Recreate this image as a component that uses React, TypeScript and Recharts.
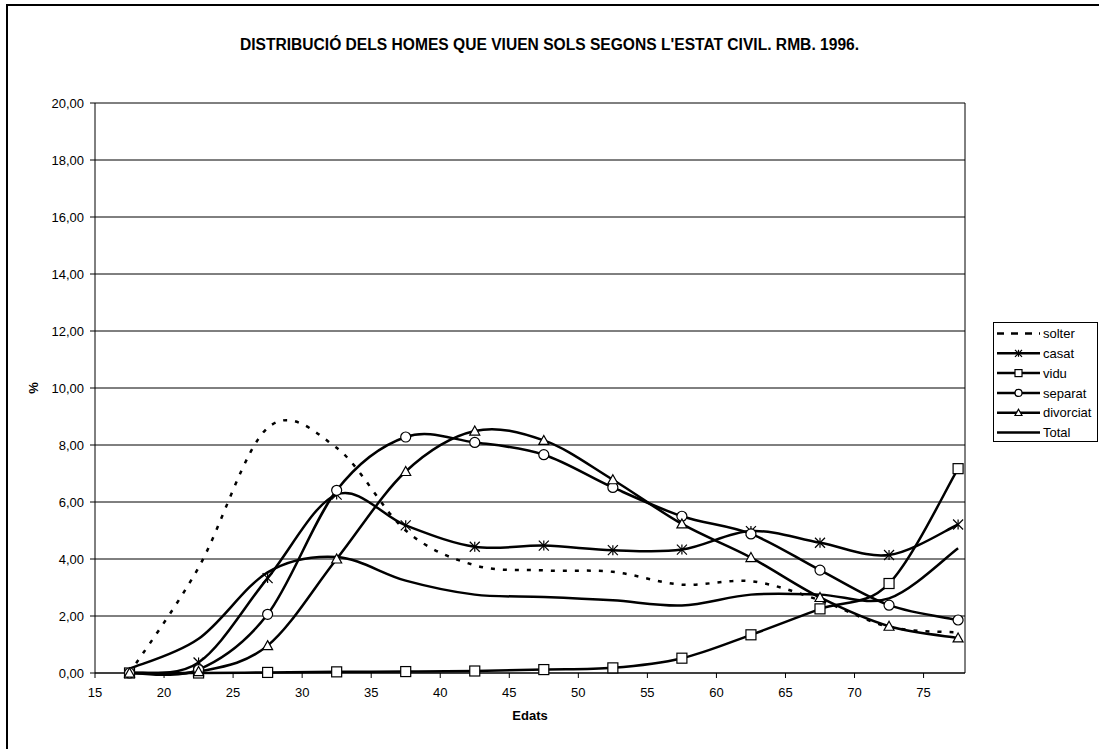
import { CartesianGrid, Line, LineChart, ReferenceLine, XAxis, YAxis } from 'recharts'

const AGES = [17.5, 22.5, 27.5, 32.5, 37.5, 42.5, 47.5, 52.5, 57.5, 62.5, 67.5, 72.5, 77.5]

const SOLTER = [0, 3.7, 8.6, 7.9, 5.0, 3.78, 3.6, 3.55, 3.1, 3.22, 2.55, 1.62, 1.42]
const CASAT = [0, 0.37, 3.33, 6.26, 5.18, 4.43, 4.47, 4.31, 4.33, 4.98, 4.57, 4.14, 5.21]
const VIDU = [0, 0, 0.02, 0.04, 0.05, 0.07, 0.12, 0.18, 0.52, 1.34, 2.25, 3.14, 7.17]
const SEPARAT = [0, 0.12, 2.06, 6.41, 8.28, 8.09, 7.66, 6.51, 5.5, 4.88, 3.61, 2.38, 1.86]
const DIVORCIAT = [0, 0.05, 0.96, 4.0, 7.07, 8.49, 8.16, 6.78, 5.23, 4.05, 2.65, 1.64, 1.23]
const TOTAL = [0.15, 1.2, 3.53, 4.07, 3.24, 2.75, 2.67, 2.55, 2.37, 2.75, 2.75, 2.62, 4.38]

const X_TICKS = [15, 20, 25, 30, 35, 40, 45, 50, 55, 60, 65, 70, 75]
const Y_TICKS = [0, 2, 4, 6, 8, 10, 12, 14, 16, 18, 20]

const data = AGES.map((age, i) => ({
  age,
  solter: SOLTER[i],
  casat: CASAT[i],
  vidu: VIDU[i],
  separat: SEPARAT[i],
  divorciat: DIVORCIAT[i],
  Total: TOTAL[i],
}))

type MarkerKind = 'none' | 'star' | 'square' | 'circle' | 'triangle'

const SERIES: { key: string; marker: MarkerKind; dashed?: boolean }[] = [
  { key: 'solter', marker: 'none', dashed: true },
  { key: 'casat', marker: 'star' },
  { key: 'vidu', marker: 'square' },
  { key: 'separat', marker: 'circle' },
  { key: 'divorciat', marker: 'triangle' },
  { key: 'Total', marker: 'none' },
]

const FONT = '"Liberation Sans", Arial, sans-serif'

// Excel style smoothing: cubic bezier with control points at (next - prev) / 6
function excelSmooth(context: any) {
  let pts: [number, number][] = []
  return {
    areaStart() {},
    areaEnd() {},
    lineStart() {
      pts = []
    },
    point(x: number, y: number) {
      pts.push([+x, +y])
    },
    lineEnd() {
      if (!pts.length) return
      context.moveTo(pts[0][0], pts[0][1])
      for (let i = 0; i < pts.length - 1; i++) {
        const p0 = pts[i - 1] ?? pts[i]
        const p1 = pts[i]
        const p2 = pts[i + 1]
        const p3 = pts[i + 2] ?? pts[i + 1]
        context.bezierCurveTo(
          p1[0] + (p2[0] - p0[0]) / 6,
          p1[1] + (p2[1] - p0[1]) / 6,
          p2[0] - (p3[0] - p1[0]) / 6,
          p2[1] - (p3[1] - p1[1]) / 6,
          p2[0],
          p2[1],
        )
      }
    },
  }
}

function Marker({ kind, cx, cy, s }: { kind: MarkerKind; cx: number; cy: number; s: number }) {
  const h = s / 2
  if (kind === 'square')
    return <rect x={cx - h} y={cy - h} width={s} height={s} fill="#fff" stroke="#000" strokeWidth={1.2} />
  if (kind === 'circle') return <circle cx={cx} cy={cy} r={h} fill="#fff" stroke="#000" strokeWidth={1.2} />
  if (kind === 'triangle')
    return (
      <polygon
        points={`${cx},${cy - h} ${cx + h},${cy + h * 0.8} ${cx - h},${cy + h * 0.8}`}
        fill="#fff"
        stroke="#000"
        strokeWidth={1.2}
      />
    )
  if (kind === 'star')
    return (
      <g stroke="#000" strokeWidth={1.2}>
        <line x1={cx} y1={cy - h} x2={cx} y2={cy + h} />
        <line x1={cx - h} y1={cy - h} x2={cx + h} y2={cy + h} />
        <line x1={cx - h} y1={cy + h} x2={cx + h} y2={cy - h} />
      </g>
    )
  return null
}

const dotFor = (kind: MarkerKind) => (props: any) => (
  <g key={`${kind}-${props.index}`}>
    <Marker kind={kind} cx={props.cx} cy={props.cy} s={10} />
  </g>
)

const fmt = (v: number) => v.toFixed(2).replace('.', ',')

function ChartLegend() {
  return (
    <div
      style={{
        position: 'absolute',
        left: 993,
        top: 322,
        width: 105,
        height: 120,
        border: '1px solid #000',
        background: '#fff',
        boxSizing: 'border-box',
      }}
    >
      <svg width={105} height={120}>
        {SERIES.map((s, i) => {
          const y = 10.5 + i * 19.8
          return (
            <g key={s.key}>
              <line
                x1={3}
                x2={46}
                y1={y}
                y2={y}
                stroke="#000"
                strokeWidth={2.5}
                strokeDasharray={s.dashed ? '7 7' : undefined}
              />
              <Marker kind={s.marker} cx={24.5} cy={y} s={7} />
              <text x={49} y={y} dy="0.355em" fontSize={13} fontFamily={FONT} fill="#000">
                {s.key}
              </text>
            </g>
          )
        })}
      </svg>
    </div>
  )
}

export default function App() {
  return (
    <div
      style={{
        position: 'absolute',
        left: 0,
        top: 0,
        width: 1099,
        height: 749,
        overflow: 'hidden',
        background: '#fff',
        fontFamily: FONT,
      }}
    >
      <div
        style={{
          position: 'absolute',
          left: 6,
          top: 4,
          width: 1200,
          height: 900,
          border: '2px solid #000',
        }}
      />
      <div
        style={{
          position: 'absolute',
          left: 0,
          top: 36,
          width: 1099,
          textAlign: 'center',
          fontSize: 15.6,
          fontWeight: 'bold',
          lineHeight: '18px',
        }}
      >
        DISTRIBUCIÓ DELS HOMES QUE VIUEN SOLS SEGONS L'ESTAT CIVIL. RMB. 1996.
      </div>
      <div style={{ position: 'absolute', left: 0, top: 0 }}>
        <LineChart width={1099} height={749} data={data} margin={{ top: 103, right: 134, bottom: 46, left: 35 }}>
          <CartesianGrid vertical={false} stroke="#000" strokeWidth={1} />
          <XAxis
            dataKey="age"
            type="number"
            domain={[15, 78]}
            ticks={X_TICKS}
            height={30}
            tickSize={5}
            tickMargin={10}
            axisLine={{ stroke: '#000' }}
            tickLine={{ stroke: '#000' }}
            tick={{ fontSize: 13, fill: '#000', fontFamily: FONT }}
            allowDataOverflow
          />
          <YAxis
            type="number"
            domain={[0, 20]}
            ticks={Y_TICKS}
            width={60}
            tickSize={5}
            tickMargin={6}
            tickFormatter={fmt}
            axisLine={{ stroke: '#000' }}
            tickLine={{ stroke: '#000' }}
            tick={{ fontSize: 13, fill: '#000', fontFamily: FONT }}
          />
          <ReferenceLine x={78} stroke="#000" strokeWidth={1} ifOverflow="extendDomain" />
          {SERIES.map(s => (
            <Line
              key={s.key}
              dataKey={s.key}
              type={excelSmooth as any}
              stroke="#000"
              strokeWidth={2.5}
              strokeDasharray={s.dashed ? '4 8' : undefined}
              dot={s.marker === 'none' ? false : dotFor(s.marker)}
              activeDot={false}
              isAnimationActive={false}
            />
          ))}
        </LineChart>
      </div>
      <div
        style={{
          position: 'absolute',
          left: 0,
          top: 708,
          width: 1060,
          textAlign: 'center',
          fontSize: 13,
          fontWeight: 'bold',
          lineHeight: '16px',
        }}
      >
        Edats
      </div>
      <div
        style={{
          position: 'absolute',
          left: 24,
          top: 380,
          width: 20,
          height: 16,
          textAlign: 'center',
          fontSize: 13,
          fontWeight: 'bold',
          lineHeight: '16px',
          transform: 'rotate(-90deg)',
        }}
      >
        %
      </div>
      <ChartLegend />
    </div>
  )
}
